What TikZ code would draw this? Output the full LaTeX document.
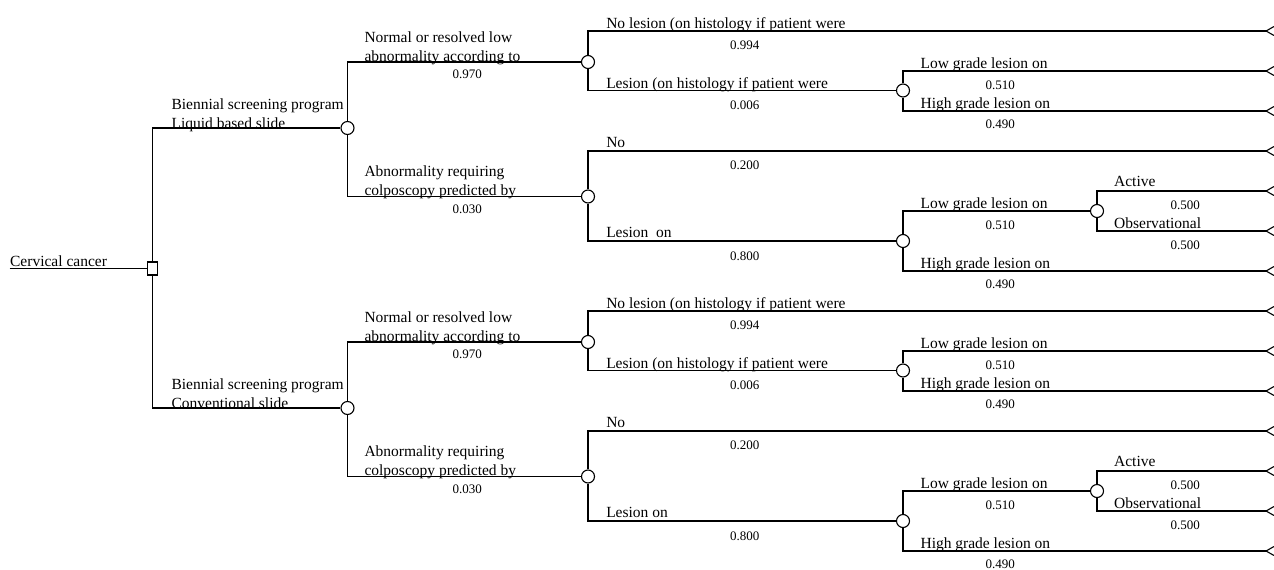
\documentclass[tikz,border=0pt]{standalone}
\usepackage{fontspec}
\setmainfont{Liberation Serif}
\usetikzlibrary{positioning}
\newcommand{\branchfont}{\fontsize{15.5}{19}\selectfont}
\newcommand{\probfont}{\fontsize{13}{15}\selectfont}

\begin{document}
\begin{tikzpicture}[%
    x=1pt,y=-1pt,line width=1.1pt,every node/.style={inner sep=0pt}]
    \tikzstyle{chance}=[circle,draw=black,fill=white,minimum size=13pt]
    \tikzstyle{decision}=[rectangle,draw=black,fill=white,%
      minimum width=10.5pt,minimum height=13pt]
    \tikzstyle{branch}=[anchor=base west,align=left,font=\branchfont]
    \tikzstyle{prob}=[anchor=base west,font=\probfont]
    \useasboundingbox (0,0) rectangle (1274,570);
    % Root of the tree
    \coordinate (rootStart) at (9.6,268.5);
    \node (root) [decision] at (152.5,268.5) {};
    \node (rootLabel) [branch] at (9.6,266) {Cervical cancer};
    \draw (rootStart) -- (root);
    % Both screening programs
    \foreach \o/\slide/\les/\h in {0/{Liquid based slide}/{Lesion\ \ on}/a,%
                                   280/{Conventional slide}/{Lesion on}/b} {
      % Chance nodes
      \node (program\h)  [chance] at (347.5,128+\o) {};
      \node (normal\h)   [chance] at (588,62+\o)    {};
      \node (abnormal\h) [chance] at (588,196.5+\o) {};
      \node (lesionN\h)  [chance] at (903,90.5+\o)  {};
      \node (lesionA\h)  [chance] at (903,241+\o)   {};
      \node (lowA\h)     [chance] at (1097,211+\o)  {};
      % Terminal nodes
      \coordinate (noLesN\h) at (1266,31+\o);
      \coordinate (lowN\h)   at (1266,71+\o);
      \coordinate (highN\h)  at (1266,111+\o);
      \coordinate (noLes\h)  at (1266,151+\o);
      \coordinate (active\h) at (1266,191+\o);
      \coordinate (observ\h) at (1266,231+\o);
      \coordinate (highA\h)  at (1266,271+\o);
      % Edges
      \draw (root) |- (program\h);
      \draw (program\h) |- (normal\h);
      \draw (program\h) |- (abnormal\h);
      \draw (normal\h) |- (noLesN\h);
      \draw (normal\h) |- (lesionN\h);
      \draw (lesionN\h) |- (lowN\h);
      \draw (lesionN\h) |- (highN\h);
      \draw (abnormal\h) |- (noLes\h);
      \draw (abnormal\h) |- (lesionA\h);
      \draw (lesionA\h) |- (lowA\h);
      \draw (lesionA\h) |- (highA\h);
      \draw (lowA\h) |- (active\h);
      \draw (lowA\h) |- (observ\h);
      \foreach \t in {noLesN,lowN,highN,noLes,active,observ,highA}
        \draw (\t\h) -- +(8,-4.5) (\t\h) -- +(8,4.5);
      % Branch labels
      \node [branch] at (171,128.5+\o) {Biennial screening program\\\slide};
      \node [branch] at (364,61.5+\o)  {Normal or resolved low\\abnormality according to};
      \node [branch] at (364,195.5+\o) {Abnormality requiring\\colposcopy predicted by};
      \node [branch] at (605.7,28.5+\o)  {No lesion (on histology if patient were};
      \node [branch] at (605.7,88.3+\o)  {Lesion (on histology if patient were};
      \node [branch] at (605.7,147+\o)   {No};
      \node [branch] at (605.7,237.5+\o) {\les};
      \node [branch] at (920,68.3+\o)    {Low grade lesion on};
      \node [branch] at (920,108.3+\o)   {High grade lesion on};
      \node [branch] at (920,208.3+\o)   {Low grade lesion on};
      \node [branch] at (920,268.3+\o)   {High grade lesion on};
      \node [branch] at (1113.6,186.7+\o) {Active};
      \node [branch] at (1113.6,228.3+\o) {Observational};
      % Probabilities
      \node [prob] at (452,78+\o)      {0.970};
      \node [prob] at (452,213+\o)     {0.030};
      \node [prob] at (729.6,49+\o)    {0.994};
      \node [prob] at (729.6,109+\o)   {0.006};
      \node [prob] at (729.6,169+\o)   {0.200};
      \node [prob] at (729.6,260.5+\o) {0.800};
      \node [prob] at (985,89+\o)      {0.510};
      \node [prob] at (985,128+\o)     {0.490};
      \node [prob] at (985,229.3+\o)   {0.510};
      \node [prob] at (985,288+\o)     {0.490};
      \node [prob] at (1170,209.3+\o)  {0.500};
      \node [prob] at (1170,249.3+\o)  {0.500};
    }
  \end{tikzpicture}
\end{document}
